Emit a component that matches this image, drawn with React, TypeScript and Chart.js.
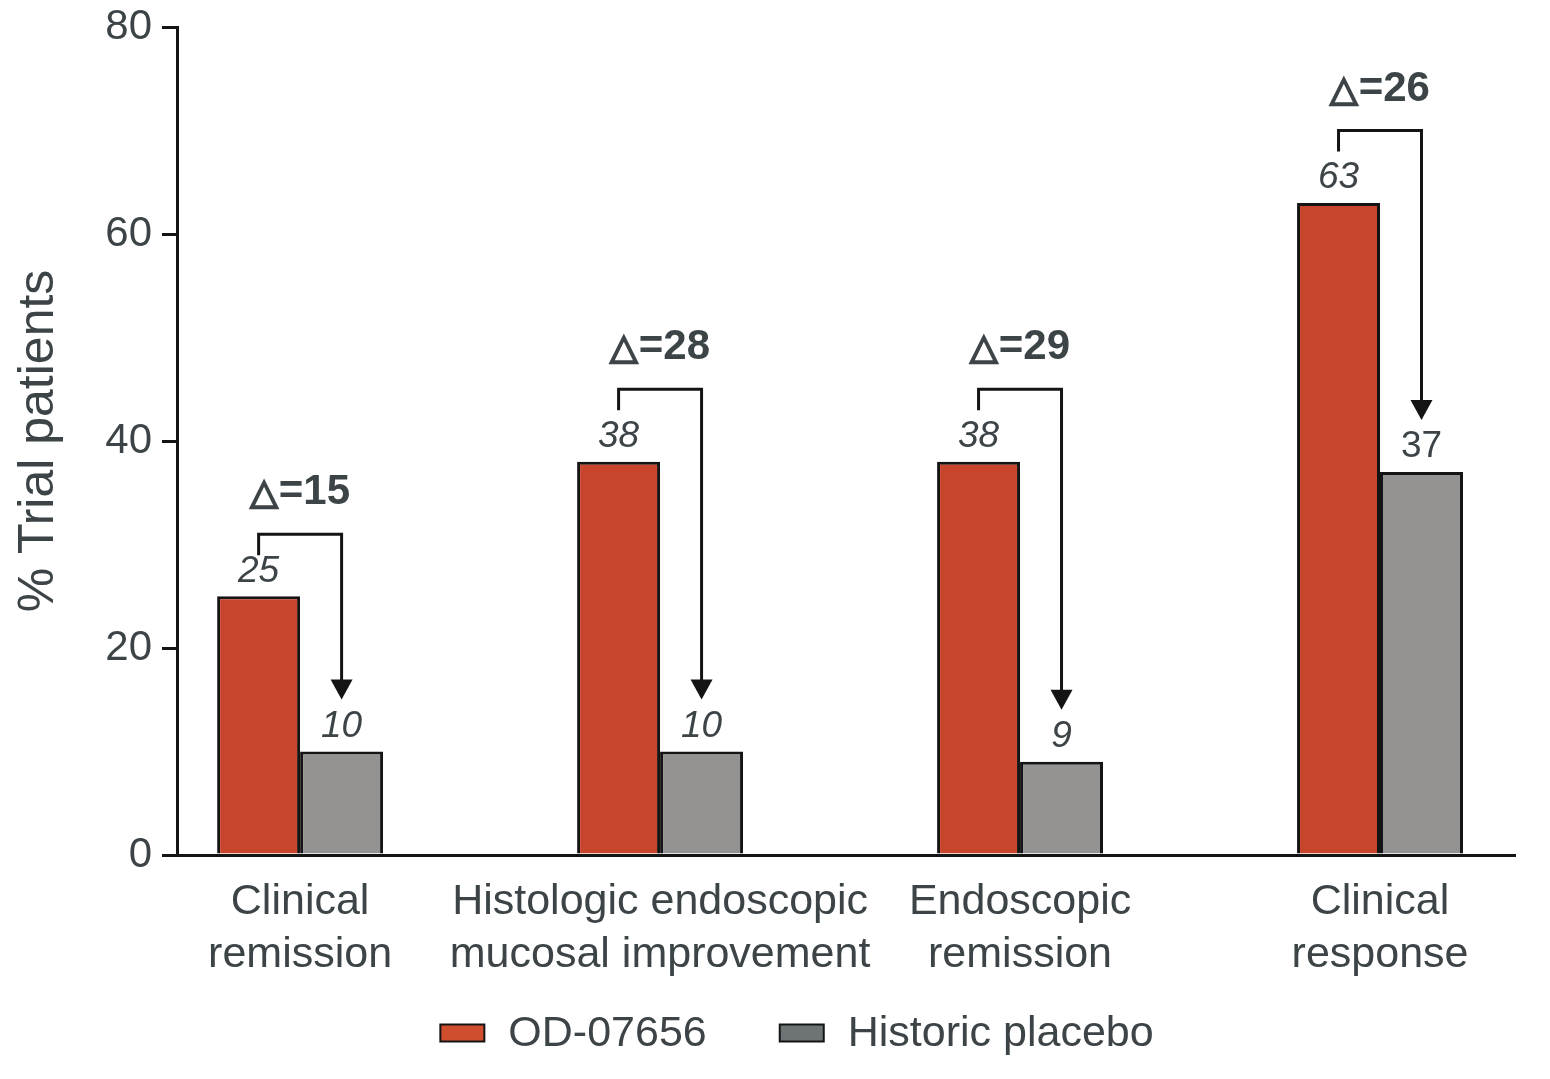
import { useEffect, useRef } from "react";
import { Chart, registerables } from "chart.js";

Chart.register(...registerables);

// Endpoints shown along the x axis (one entry per line of the label)
const CATEGORIES: string[][] = [
  ["Clinical", "remission"],
  ["Histologic endoscopic", "mucosal improvement"],
  ["Endoscopic", "remission"],
  ["Clinical", "response"],
];
const SERIES_NAMES = ["OD-07656", "Historic placebo"];
const OD_VALUES = [25, 38, 38, 63];
const PLACEBO_VALUES = [10, 10, 9, 37];
const DELTAS = [15, 28, 29, 26];
// Height (in % units) of the connector drawn above each pair
const BRACKET_LEVELS = [31, 45, 45, 70];
const Y_TICKS = [0, 20, 40, 60, 80];

const TEXT = "#3d4447";
const LINE = "#141414";
const RED = "#c8452b";
const GREY = "#949392";
const LEGEND_COLORS = ["#d04e2e", "#6e7476"];
const SANS = '"Liberation Sans", Arial, Helvetica, sans-serif';

const bracketPlugin = {
  id: "deltaBrackets",
  afterDatasetsDraw(chart: any) {
    const ctx: CanvasRenderingContext2D = chart.ctx;
    const yScale = chart.scales.y;
    const od = chart.getDatasetMeta(0).data;
    const pl = chart.getDatasetMeta(1).data;
    ctx.save();

    // value labels above the bars
    ctx.fillStyle = TEXT;
    ctx.textAlign = "center";
    ctx.textBaseline = "middle";
    [od, pl].forEach((bars: any[], di: number) => {
      bars.forEach((bar: any, i: number) => {
        const v = di === 0 ? OD_VALUES[i] : PLACEBO_VALUES[i];
        const upright = di === 1 && i === 3;
        ctx.font = `${upright ? "" : "italic "}37px ${SANS}`;
        ctx.fillText(String(v), bar.x, bar.y - 25);
      });
    });

    // connectors with arrow heads and the difference text
    ctx.lineJoin = "miter";
    ctx.lineCap = "butt";
    DELTAS.forEach((d, i) => {
      const xl = od[i].x;
      const xr = pl[i].x;
      const yt = yScale.getPixelForValue(BRACKET_LEVELS[i]);
      const tip = pl[i].y - 52;
      ctx.strokeStyle = LINE;
      ctx.fillStyle = LINE;
      ctx.lineWidth = 3;
      ctx.beginPath();
      ctx.moveTo(xl, yt + 21);
      ctx.lineTo(xl, yt);
      ctx.lineTo(xr, yt);
      ctx.lineTo(xr, tip - 16);
      ctx.stroke();
      ctx.beginPath();
      ctx.moveTo(xr - 11, tip - 20);
      ctx.lineTo(xr + 11, tip - 20);
      ctx.lineTo(xr, tip);
      ctx.closePath();
      ctx.fill();

      const triFont = `bold 36px "DejaVu Sans", sans-serif`;
      const numFont = `bold 42px ${SANS}`;
      const tri = "\u25B3";
      const rest = `=${d}`;
      ctx.font = triFont;
      const wTri = ctx.measureText(tri).width;
      ctx.font = numFont;
      const wRest = ctx.measureText(rest).width;
      const gap = 1;
      const total = wTri + gap + wRest;
      const cx = (xl + xr) / 2;
      const base = yt - 30;
      let x = cx - total / 2;
      ctx.textAlign = "left";
      ctx.textBaseline = "alphabetic";
      ctx.fillStyle = TEXT;
      ctx.strokeStyle = TEXT;
      ctx.font = triFont;
      ctx.lineWidth = 2;
      ctx.fillText(tri, x, base);
      ctx.strokeText(tri, x, base);
      x += wTri + gap;
      ctx.font = numFont;
      ctx.fillText(rest, x, base);
    });
    ctx.restore();
  },
};

const legendPlugin = {
  id: "bottomLegend",
  afterDraw(chart: any) {
    const ctx: CanvasRenderingContext2D = chart.ctx;
    const boxW = 44;
    const boxH = 17;
    const boxGap = 24;
    const itemGap = 73;
    const cy = 1033;
    ctx.save();
    ctx.font = `43px ${SANS}`;
    const widths = SERIES_NAMES.map((n) => boxW + boxGap + ctx.measureText(n).width);
    const total = widths.reduce((a, b) => a + b, 0) + itemGap * (widths.length - 1);
    let x = chart.width / 2 + 22 - total / 2;
    SERIES_NAMES.forEach((name, i) => {
      ctx.fillStyle = LEGEND_COLORS[i];
      ctx.fillRect(x, cy - boxH / 2, boxW, boxH);
      ctx.strokeStyle = LINE;
      ctx.lineWidth = 2;
      ctx.strokeRect(x, cy - boxH / 2, boxW, boxH);
      ctx.fillStyle = TEXT;
      ctx.textAlign = "left";
      ctx.textBaseline = "middle";
      ctx.fillText(name, x + boxW + boxGap, cy + 1);
      x += widths[i] + itemGap;
    });
    ctx.restore();
  },
};

export default function App() {
  const canvasRef = useRef<HTMLCanvasElement | null>(null);

  useEffect(() => {
    if (!canvasRef.current) return;
    const chart = new Chart(canvasRef.current, {
      type: "bar",
      data: {
        datasets: [
          {
            label: SERIES_NAMES[0],
            data: OD_VALUES.map((v, i) => ({ x: i, y: v })),
            backgroundColor: RED,
            borderColor: LINE,
            borderWidth: 3,
          },
          {
            label: SERIES_NAMES[1],
            data: PLACEBO_VALUES.map((v, i) => ({ x: i, y: v })),
            backgroundColor: GREY,
            borderColor: LINE,
            borderWidth: 3,
          },
        ],
      },
      options: {
        responsive: false,
        animation: false,
        devicePixelRatio: 1,
        layout: { padding: { top: 27, right: 35, left: 0, bottom: 0 } },
        datasets: {
          bar: { categoryPercentage: 0.461, barPercentage: 1 },
        },
        plugins: {
          legend: { display: false },
          tooltip: { enabled: false },
        },
        scales: {
          x: {
            type: "linear",
            min: -0.342,
            max: 3.375,
            offset: false,
            afterBuildTicks: (scale: any) => {
              scale.ticks = CATEGORIES.map((_, i) => ({ value: i }));
            },
            afterFit: (scale: any) => {
              scale.height = 224;
            },
            grid: { display: false, drawTicks: false },
            border: { display: true, color: LINE, width: 3 },
            ticks: {
              autoSkip: false,
              maxRotation: 0,
              minRotation: 0,
              padding: 21,
              color: TEXT,
              font: { family: SANS, size: 43, lineHeight: 1.23 },
              callback: (value: any) => CATEGORIES[Math.round(Number(value))] ?? "",
            },
          },
          y: {
            min: 0,
            max: 80,
            afterBuildTicks: (scale: any) => {
              scale.ticks = Y_TICKS.map((v) => ({ value: v }));
            },
            afterFit: (scale: any) => {
              scale.width = 177;
            },
            grid: {
              display: true,
              drawOnChartArea: false,
              drawTicks: true,
              tickLength: 15,
              lineWidth: 3,
              color: LINE,
            },
            border: { display: true, color: LINE, width: 3 },
            ticks: {
              padding: 10,
              color: TEXT,
              font: { family: SANS, size: 42, lineHeight: 0.8 },
            },
            title: {
              display: true,
              text: "% Trial patients",
              color: TEXT,
              font: { family: SANS, size: 50, lineHeight: 1.2 },
              padding: { top: 9, bottom: 0 },
            },
          },
        },
      },
      plugins: [bracketPlugin, legendPlugin],
    } as any);
    return () => chart.destroy();
  }, []);

  return (
    <div
      style={{
        position: "fixed",
        left: 0,
        top: 0,
        width: 1550,
        height: 1079,
        background: "#ffffff",
      }}
    >
      <canvas ref={canvasRef} width={1550} height={1079} />
    </div>
  );
}
